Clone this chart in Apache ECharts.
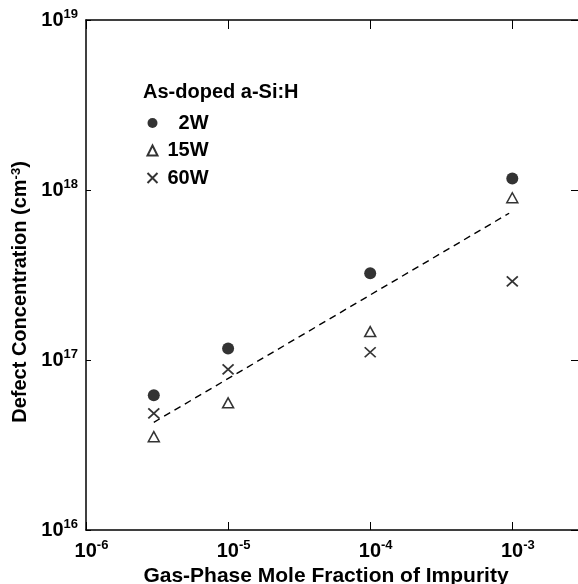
<!DOCTYPE html>
<html>
<head>
<meta charset="utf-8">
<script src="https://cdn.jsdelivr.net/npm/echarts@6/dist/echarts.min.js"></script>
<style>
html,body{margin:0;padding:0;background:#fff;}
#chart{width:578px;height:584px;}
</style>
</head>
<body>
<div id="chart"></div>
<script>
// ---- data ----
const xValues = [3e-6, 1e-5, 1e-4, 1e-3];
const w2 = [6.2e16, 1.17e17, 3.24e17, 1.17e18];
const w15 = [3.54e16, 5.6e16, 1.47e17, 9.0e17];
const w60 = [4.85e16, 8.8e16, 1.11e17, 2.9e17];
const fitX = [3e-6, 9.5e-4];
const fitY = [4.3e16, 7.3e17];
const xTickExponents = [-6, -5, -4, -3];
const yTickExponents = [16, 17, 18, 19];
const seriesNames = ['2W', '15W', '60W'];
const legendTitle = 'As-doped a-Si:H';
const xTitle = 'Gas-Phase Mole Fraction of Impurity';
const yTitle = 'Defect Concentration (cm{sup|-3})';

const FONT = '"Liberation Sans", Arial, Helvetica, sans-serif';
const pairs = (xs, ys) => xs.map((x, i) => [x, ys[i]]);

function expOf(v, list) {
  const l = Math.log10(v);
  const e = Math.round(l);
  if (Math.abs(l - e) < 1e-6 && list.indexOf(e) >= 0) return e;
  return null;
}

const richLabel = {
  pad: {width: 11, fontSize: 13},
  b: {fontSize: 20, fontWeight: 'bold', fontFamily: FONT, color: '#000', lineHeight: 24},
  sup: {fontSize: 13, fontWeight: 'bold', fontFamily: FONT, color: '#000', verticalAlign: 'top', lineHeight: 14}
};

const chart = echarts.init(document.getElementById('chart'), null, {renderer: 'canvas'});

const axisLineStyle = {color: '#000', width: 1.5};

chart.setOption({
  animation: false,
  backgroundColor: '#fff',
  grid: {left: 86, top: 20, right: 0, bottom: 54, containLabel: false, outerBoundsMode: 'none'},
  title: {
    text: legendTitle,
    left: 138,
    top: 77,
    textStyle: {fontFamily: FONT, fontSize: 20, fontWeight: 'bold', color: '#000'}
  },
  legend: {
    data: seriesNames,
    orient: 'vertical',
    left: 145,
    top: 113,
    padding: 0,
    itemWidth: 10,
    itemHeight: 10,
    itemGap: 7.5,
    formatter: n => n.length < 3 ? '\u2007' + n : n,
    textStyle: {fontFamily: FONT, fontSize: 20, fontWeight: 'bold', color: '#000', padding: [0, 0, 0, 5]}
  },
  xAxis: [{
    type: 'log',
    logBase: 10,
    min: 1e-6,
    max: 2.9e-3,
    position: 'bottom',
    name: xTitle,
    nameLocation: 'middle',
    nameGap: 32,
    nameTextStyle: {fontFamily: FONT, fontSize: 21, fontWeight: 'bold', color: '#000', padding: [0, 12, 0, 0]},
    axisLine: {show: true, lineStyle: axisLineStyle},
    axisTick: {show: true, inside: true, length: 8, lineStyle: {color: '#000', width: 1}},
    minorTick: {show: false},
    splitLine: {show: false},
    axisLabel: {
      margin: 9,
      formatter: v => { const e = expOf(v, xTickExponents); return e === null ? '' : '{pad|}{b|10}{sup|' + e + '}'; },
      rich: richLabel
    }
  }, {
    type: 'log',
    logBase: 10,
    min: 1e-6,
    max: 2.9e-3,
    position: 'top',
    axisLine: {show: true, lineStyle: axisLineStyle},
    axisTick: {show: true, inside: true, length: 9, lineStyle: {color: '#000', width: 1}},
    splitLine: {show: false},
    axisLabel: {show: false}
  }],
  yAxis: [{
    type: 'log',
    logBase: 10,
    min: 1e16,
    max: 1e19,
    position: 'left',
    name: yTitle,
    nameLocation: 'middle',
    nameGap: 46,
    nameRotate: 90,
    nameTextStyle: {
      fontFamily: FONT, fontSize: 20, fontWeight: 'bold', color: '#000', padding: [0, 34, 0, 0],
      rich: {sup: {fontFamily: FONT, fontSize: 13, fontWeight: 'bold', color: '#000', verticalAlign: 'top', lineHeight: 14}}
    },
    axisLine: {show: true, lineStyle: axisLineStyle},
    axisTick: {show: true, inside: true, length: 5, lineStyle: {color: '#000', width: 1}},
    splitLine: {show: false},
    axisLabel: {
      margin: 8,
      formatter: v => { const e = expOf(v, yTickExponents); return e === null ? '' : '{b|10}{sup|' + e + '}'; },
      rich: richLabel
    }
  }, {
    type: 'log',
    logBase: 10,
    min: 1e16,
    max: 1e19,
    position: 'right',
    axisLine: {show: false},
    axisTick: {show: true, inside: true, length: 7, lineStyle: {color: '#000', width: 1}},
    splitLine: {show: false},
    axisLabel: {show: false}
  }],
  series: [{
    name: '2W',
    type: 'scatter',
    xAxisIndex: 0, yAxisIndex: 0,
    symbol: 'circle',
    symbolSize: 12,
    itemStyle: {color: '#000'},
    data: pairs(xValues, w2)
  }, {
    name: '15W',
    type: 'scatter',
    xAxisIndex: 0, yAxisIndex: 0,
    symbol: 'triangle',
    symbolSize: [11, 10],
    itemStyle: {color: '#fff', borderColor: '#000', borderWidth: 1.5},
    data: pairs(xValues, w15)
  }, {
    name: '60W',
    type: 'scatter',
    xAxisIndex: 0, yAxisIndex: 0,
    symbol: 'path://M0,0L10,10M10,0L0,10',
    symbolSize: [11, 10],
    itemStyle: {color: 'none', borderColor: '#000', borderWidth: 1.7},
    data: pairs(xValues, w60)
  }, {
    name: 'fit',
    type: 'line',
    xAxisIndex: 0, yAxisIndex: 0,
    symbol: 'none',
    silent: true,
    lineStyle: {color: '#000', width: 1.4, type: [7, 5]},
    data: pairs(fitX, fitY)
  }]
});
</script>
</body>
</html>
